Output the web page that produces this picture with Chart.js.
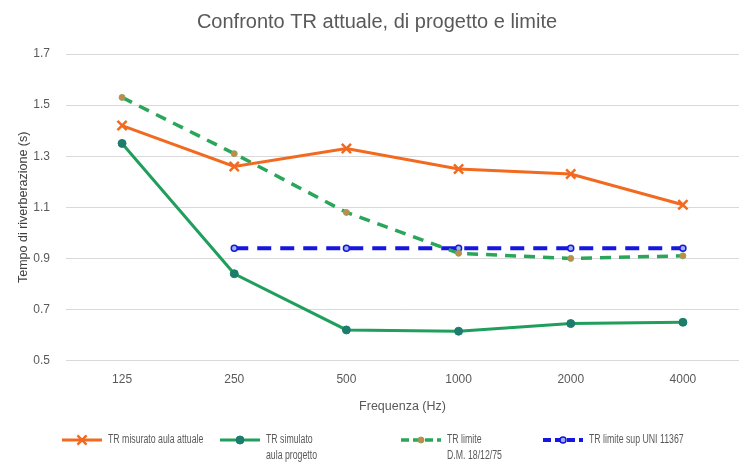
<!DOCTYPE html>
<html>
<head>
<meta charset="utf-8">
<script src="https://cdn.jsdelivr.net/npm/chart.js@4"></script>
<style>
  html, body { margin: 0; padding: 0; background: #fff; }
  #wrap { width: 748px; height: 472px; position: relative; }
</style>
</head>
<body>
<div id="wrap"><canvas id="trChart"></canvas></div>
<script>
// Data
const frequencies = ['125', '250', '500', '1000', '2000', '4000'];
const trMisurato = [1.42, 1.26, 1.33, 1.25, 1.23, 1.11];
const trSimulato = [1.35, 0.84, 0.62, 0.615, 0.645, 0.65];
const trLimiteDM = [1.53, 1.31, 1.08, 0.92, 0.90, 0.91];
const trLimiteUNI = [null, 0.94, 0.94, 0.94, 0.94, 0.94];
const yTicks = [0.5, 0.7, 0.9, 1.1, 1.3, 1.5, 1.7];

const FONT = "'Liberation Sans', Arial, sans-serif";
const GREY = '#595959';

// legend entries (multi-line labels drawn by hand)
const legendItems = [
    { lines: ['TR misurato aula attuale'], ds: 0, x: 62 },
    { lines: ['TR simulato', 'aula progetto'], ds: 1, x: 220 },
    { lines: ['TR limite', 'D.M. 18/12/75'], ds: 2, x: 401 },
    { lines: ['TR limite sup UNI 11367'], ds: 3, x: 543 }
];

const legendPlugin = {
    id: 'bottomLegend',
    afterDraw(chart) {
        const ctx = chart.ctx;
        const y = 440;
        legendItems.forEach(item => {
            const ds = chart.data.datasets[item.ds];
            ctx.save();
            ctx.strokeStyle = ds.borderColor;
            ctx.lineWidth = ds.borderWidth;
            if (ds.borderDash) ctx.setLineDash([8, 4]);
            ctx.beginPath();
            ctx.moveTo(item.x, y);
            ctx.lineTo(item.x + 40, y);
            ctx.stroke();
            ctx.setLineDash([]);
            ctx.fillStyle = ds.pointBackgroundColor;
            ctx.strokeStyle = ds.pointBorderColor;
            ctx.lineWidth = ds.pointBorderWidth;
            ctx.beginPath();
            if (ds.pointStyle === 'circle') {
                ctx.arc(item.x + 20, y, ds.pointRadius, 0, Math.PI * 2);
                ctx.fill();
                ctx.stroke();
            } else {
                const r = ds.pointRadius * 0.7;
                ctx.moveTo(item.x + 20 - r, y - r);
                ctx.lineTo(item.x + 20 + r, y + r);
                ctx.moveTo(item.x + 20 + r, y - r);
                ctx.lineTo(item.x + 20 - r, y + r);
                ctx.stroke();
            }
            // condensed text, closer to the original narrow font
            ctx.fillStyle = GREY;
            ctx.font = '12.5px ' + FONT;
            ctx.textBaseline = 'middle';
            ctx.translate(item.x + 46, y);
            ctx.scale(0.7, 1);
            item.lines.forEach((ln, i) => ctx.fillText(ln, 0, i * 16));
            ctx.restore();
        });
    }
};

new Chart(document.getElementById('trChart'), {
    type: 'line',
    data: {
        labels: frequencies,
        datasets: [
            {
                label: 'TR misurato aula attuale',
                data: trMisurato,
                borderColor: '#f26a1f',
                borderWidth: 3,
                pointStyle: 'crossRot',
                pointRadius: 6.5,
                pointBorderWidth: 2.5,
                pointBorderColor: '#f26a1f',
                pointBackgroundColor: '#f26a1f',
                tension: 0
            },
            {
                label: 'TR simulato aula progetto',
                data: trSimulato,
                borderColor: '#1f9e5c',
                borderWidth: 3,
                pointStyle: 'circle',
                pointRadius: 4,
                pointBorderWidth: 1,
                pointBorderColor: '#1d7d6c',
                pointBackgroundColor: '#1d7d6c',
                tension: 0
            },
            {
                label: 'TR limite D.M. 18/12/75',
                data: trLimiteDM,
                borderColor: '#2aa65a',
                borderWidth: 3.5,
                borderDash: [11, 8],
                pointStyle: 'circle',
                pointRadius: 3,
                pointBorderWidth: 1,
                pointBorderColor: '#8ea35a',
                pointBackgroundColor: '#c58a4a',
                tension: 0
            },
            {
                label: 'TR limite sup UNI 11367',
                data: trLimiteUNI,
                borderColor: '#1616e0',
                borderWidth: 4,
                borderDash: [14, 9],
                pointStyle: 'circle',
                pointRadius: 3,
                pointBorderWidth: 1.5,
                pointBorderColor: '#1616e0',
                pointBackgroundColor: '#9fb2ea',
                tension: 0
            }
        ]
    },
    options: {
        responsive: true,
        maintainAspectRatio: false,
        animation: false,
        layout: { padding: { left: 12, right: 6, top: 2, bottom: 58 } },
        plugins: {
            legend: { display: false },
            tooltip: { enabled: false },
            title: {
                display: true,
                text: 'Confronto TR attuale, di progetto e limite',
                color: GREY,
                font: { size: 20, family: FONT, weight: 'normal' },
                padding: { top: 8, bottom: 20 }
            }
        },
        scales: {
            x: {
                offset: true,
                grid: { display: false, drawTicks: false },
                border: { display: false },
                ticks: { color: GREY, font: { size: 12, family: FONT }, padding: 12 },
                title: {
                    display: true,
                    text: 'Frequenza (Hz)',
                    color: GREY,
                    font: { size: 12.5, family: FONT },
                    padding: { top: 0, bottom: 0 }
                }
            },
            y: {
                min: 0.5,
                max: 1.7,
                afterBuildTicks: axis => { axis.ticks = yTicks.map(v => ({ value: v })); },
                afterFit: axis => { axis.width = 54; },
                grid: { color: '#d9d9d9', drawTicks: false, lineWidth: 1 },
                border: { display: false },
                ticks: {
                    color: GREY,
                    font: { size: 12, family: FONT },
                    padding: 16,
                    callback: v => v.toFixed(1)
                },
                title: {
                    display: true,
                    text: 'Tempo di riverberazione (s)',
                    color: '#404040',
                    font: { size: 12.5, family: FONT },
                    padding: { top: 4, bottom: 2 }
                }
            }
        }
    },
    plugins: [legendPlugin]
});
</script>
</body>
</html>
